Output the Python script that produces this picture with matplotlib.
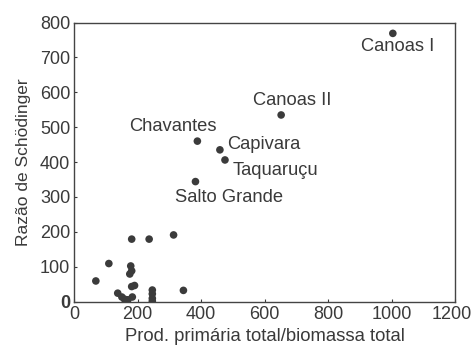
import matplotlib
matplotlib.use("Agg")
import matplotlib.pyplot as plt
import matplotlib.transforms as mtransforms

# Named reservoirs
named_labels = ["Canoas I", "Canoas II", "Capivara", "Taquaruçu", "Chavantes", "Salto Grande"]
named_x = [1004, 652, 459, 475, 388, 382]
named_y = [769, 535, 435, 406, 460, 344]

# Unlabelled points
other_x = [181, 236, 313, 109, 68, 178, 181, 175, 181, 190, 137, 150, 158, 169, 183, 246, 246, 246, 246, 344]
other_y = [179, 179, 191, 109, 59, 102, 88, 79, 43, 46, 24, 13, 7, 5, 13, 33, 22, 9, 1, 32]

x_ticks = [0, 200, 400, 600, 800, 1000, 1200]
y_ticks = [0, 100, 200, 300, 400, 500, 600, 700, 800]

x_label = "Prod. primária total/biomassa total"
y_label = "Razão de Schödinger"

plt.rcParams['font.family'] = ['Liberation Sans', 'DejaVu Sans']
text_col = "#3a3a3a"
dot_col = "#3b3b3b"

fig = plt.figure(figsize=(4.73, 3.47), dpi=100)
ax = fig.add_axes([0.157, 0.131, 0.805, 0.804])

ax.scatter(other_x, other_y, s=30, color=dot_col, edgecolors='none', zorder=3)
ax.scatter(named_x, named_y, s=30, color=dot_col, edgecolors='none', zorder=3)

# label offsets (points) and alignments
offsets = [(3.6, -9.6, 'center'), (7.9, 10.3, 'center'), (5.0, 4.1, 'left'),
           (5.5, -7.9, 'left'), (-17.8, 10.3, 'center'), (-14.4, -11.5, 'left')]
for lab, xv, yv, (dx, dy, ha) in zip(named_labels, named_x, named_y, offsets):
    ax.annotate(lab, (xv, yv), xytext=(dx, dy), textcoords='offset points',
                ha=ha, va='center', fontsize=13.2, color=text_col)

ax.set_xlim(0, 1200)
ax.set_ylim(0, 800)
ax.set_xticks(x_ticks)
ax.set_yticks(y_ticks)
ax.tick_params(direction='in', length=2, width=0.8, colors=text_col,
               labelsize=13, labelcolor=text_col)
ax.tick_params(axis='x', pad=3)
ax.tick_params(axis='y', pad=3)
for sp in ax.spines.values():
    sp.set_color("#444444")
    sp.set_linewidth(1.0)

# bold zero on the y axis as in the reference
ylabs = ax.get_yticklabels()
ylabs[0].set_fontweight('bold')

# nudge last x tick label slightly left
fig.canvas.draw()
xl = ax.get_xticklabels()[-1]
xl.set_transform(xl.get_transform() + mtransforms.ScaledTranslation(-3/100, 0, fig.dpi_scale_trans))

ax.set_xlabel(x_label, fontsize=13.3, color=text_col, labelpad=4)
ax.set_ylabel(y_label, fontsize=12.5, color=text_col, labelpad=6)

fig.savefig("out.png", dpi=100)
